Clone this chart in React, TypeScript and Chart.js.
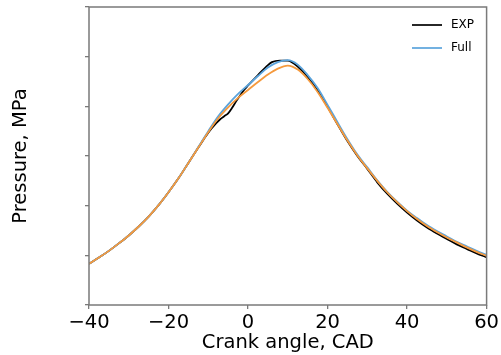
import React, { useEffect, useRef } from "react";
import { Chart, registerables } from "chart.js";

Chart.register(...registerables);

// Crank angle grid (CAD) for the smooth series
const cad = [-40, -37.5, -35, -32.5, -30, -27.5, -25, -22.5, -20, -17.5, -15, -12.5, -10, -7.5, -5, -2.5, 0, 2.5, 5, 7.5, 10, 12.5, 15, 17.5, 20, 22.5, 25, 27.5, 30, 32.5, 35, 37.5, 40, 42.5, 45, 47.5, 50, 52.5, 55, 57.5, 60];

// "Full" model (blue)
const fullP = [0.83, 0.955, 1.09, 1.24, 1.40, 1.58, 1.78, 2.01, 2.27, 2.55, 2.86, 3.18, 3.50, 3.80, 4.04, 4.25, 4.43, 4.61, 4.78, 4.89, 4.93, 4.84, 4.63, 4.37, 4.03, 3.68, 3.34, 3.03, 2.77, 2.51, 2.28, 2.08, 1.90, 1.75, 1.61, 1.49, 1.38, 1.27, 1.18, 1.09, 1.01];

// Second model (orange, not in legend)
const otherP = [0.83, 0.955, 1.09, 1.24, 1.40, 1.58, 1.78, 2.01, 2.27, 2.55, 2.86, 3.17, 3.48, 3.76, 3.98, 4.17, 4.33, 4.49, 4.64, 4.76, 4.82, 4.74, 4.55, 4.29, 3.97, 3.64, 3.31, 3.01, 2.75, 2.50, 2.27, 2.07, 1.89, 1.73, 1.59, 1.47, 1.36, 1.26, 1.16, 1.07, 0.99];

// Experiment (black) on its own finer grid
const expCad = [-40, -37.5, -35, -32.5, -30, -27.5, -25, -22.5, -20, -17.5, -15, -12.5, -10, -8, -7, -6, -5, -4, -3, -2, -1, 0, 2.5, 5, 6, 8, 10, 11, 12.5, 15, 17.5, 20, 22.5, 25, 27.5, 30, 32.5, 35, 37.5, 40, 42.5, 45, 47.5, 50, 52.5, 55, 57.5, 60];
const expP = [0.83, 0.955, 1.09, 1.24, 1.40, 1.58, 1.78, 2.01, 2.27, 2.55, 2.86, 3.17, 3.47, 3.66, 3.74, 3.80, 3.86, 3.97, 4.10, 4.22, 4.33, 4.42, 4.63, 4.83, 4.89, 4.92, 4.92, 4.89, 4.80, 4.59, 4.32, 3.99, 3.64, 3.30, 3.00, 2.74, 2.47, 2.24, 2.04, 1.86, 1.70, 1.56, 1.44, 1.33, 1.22, 1.13, 1.04, 0.96];

const xTicks = [-40, -20, 0, 20, 40, 60];
const legendLabels = ["EXP", "Full"];

const FONT = "'DejaVu Sans', 'Liberation Sans', sans-serif";

const framePlugin = {
  id: "frame",
  afterDatasetsDraw(chart: any) {
    const { ctx, chartArea } = chart;
    ctx.save();
    ctx.strokeStyle = "#7a7a7a";
    ctx.lineWidth = 1.5;
    ctx.strokeRect(chartArea.left, chartArea.top, chartArea.right - chartArea.left, chartArea.bottom - chartArea.top);
    ctx.restore();
  },
};

const legendPlugin = {
  id: "insideLegend",
  afterDraw(chart: any) {
    const { ctx } = chart;
    const items = [
      { label: legendLabels[0], color: chart.data.datasets[2].borderColor, y: 25 },
      { label: legendLabels[1], color: chart.data.datasets[1].borderColor, y: 48 },
    ];
    ctx.save();
    items.forEach((it) => {
      ctx.strokeStyle = it.color;
      ctx.lineWidth = 1.7;
      ctx.beginPath();
      ctx.moveTo(412, it.y);
      ctx.lineTo(442, it.y);
      ctx.stroke();
      ctx.fillStyle = "#000";
      ctx.font = `12px ${FONT}`;
      ctx.textBaseline = "middle";
      ctx.textAlign = "left";
      ctx.fillText(it.label, 451, it.y);
    });
    ctx.restore();
  },
};

export default function App() {
  const ref = useRef<HTMLCanvasElement | null>(null);

  useEffect(() => {
    if (!ref.current) return;
    const common = {
      borderWidth: 1.8,
      pointRadius: 0,
      cubicInterpolationMode: "monotone" as const,
      fill: false,
    };
    const chart = new Chart(ref.current, {
      type: "line",
      data: {
        datasets: [
          {
            label: "Model",
            data: cad.map((x, i) => ({ x, y: otherP[i] })),
            borderColor: "#f59a3e",
            ...common,
          },
          {
            label: legendLabels[1],
            data: cad.map((x, i) => ({ x, y: fullP[i] })),
            borderColor: "#5aa3dc",
            ...common,
          },
          {
            label: legendLabels[0],
            data: expCad.map((x, i) => ({ x, y: expP[i] })),
            borderColor: "#000000",
            ...common,
          },
        ],
      },
      options: {
        responsive: false,
        animation: false,
        events: [],
        layout: { padding: { top: 7, right: 12, left: 0, bottom: 0 } },
        plugins: { legend: { display: false }, tooltip: { enabled: false } },
        scales: {
          x: {
            type: "linear",
            min: -40,
            max: 60,
            afterBuildTicks: (s: any) => {
              s.ticks = xTicks.map((v) => ({ value: v }));
            },
            afterFit: (s: any) => {
              s.height = 50;
            },
            ticks: {
              color: "#000",
              font: { family: FONT, size: 19.5 },
              padding: 2,
              maxRotation: 0,
              autoSkip: false,
              callback: (v: any) => String(v).replace("-", "\u2212"),
            },
            grid: { drawOnChartArea: false, drawTicks: true, tickLength: 4, color: "#7a7a7a", lineWidth: 1.3 },
            border: { display: false },
            title: {
              display: true,
              text: "Crank angle, CAD",
              color: "#000",
              font: { family: FONT, size: 19.5 },
              padding: { top: 0, bottom: 0 },
            },
          },
          y: {
            type: "linear",
            min: 0,
            max: 6,
            afterFit: (s: any) => {
              s.width = 89;
            },
            ticks: { stepSize: 1, display: false },
            grid: { drawOnChartArea: false, drawTicks: true, tickLength: 4, color: "#7a7a7a", lineWidth: 1.3 },
            border: { display: false },
            title: {
              display: true,
              text: "Pressure, MPa",
              color: "#000",
              font: { family: FONT, size: 19.5 },
              padding: { top: 9, bottom: 0 },
            },
          },
        },
      },
      plugins: [framePlugin, legendPlugin],
    });
    return () => chart.destroy();
  }, []);

  return (
    <div style={{ position: "fixed", left: 0, top: 0, width: 501, height: 355, background: "#fff" }}>
      <canvas ref={ref} width={501} height={355} style={{ display: "block" }} />
    </div>
  );
}
